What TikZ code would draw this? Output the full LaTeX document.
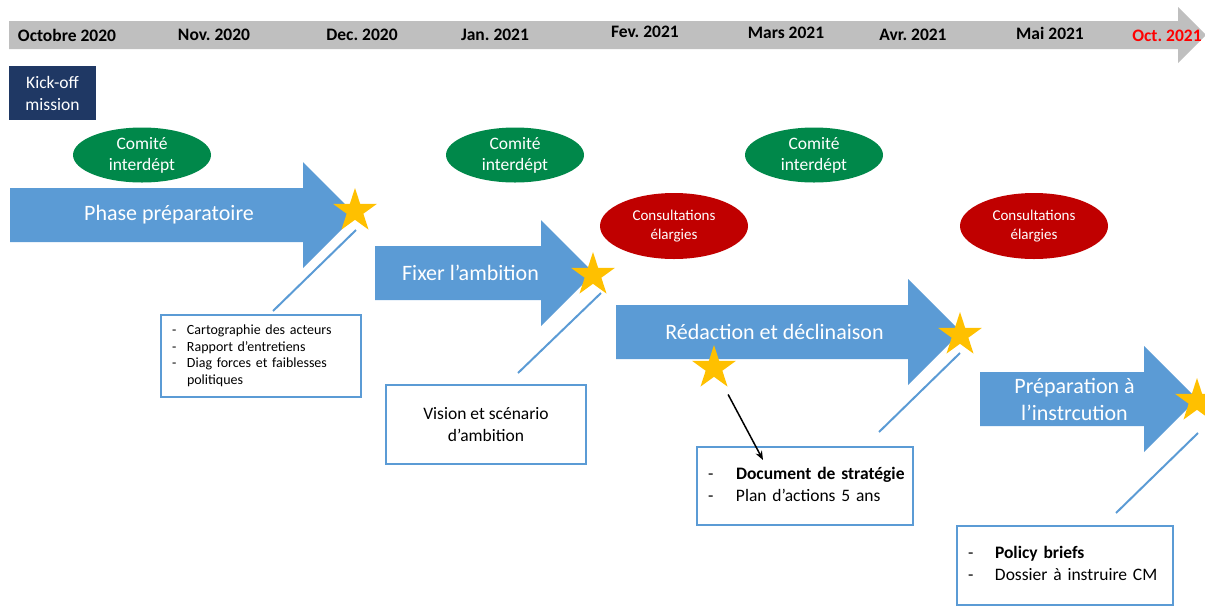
\documentclass[tikz,border=0pt]{standalone}
\usepackage{fontspec}
\setmainfont{Carlito}
\usetikzlibrary{shapes.geometric,arrows.meta}
\frenchspacing

\definecolor{phaseblue}{HTML}{5B9BD5}
\definecolor{comgreen}{RGB}{0,136,74}
\definecolor{consred}{HTML}{C00000}
\definecolor{kicknavy}{HTML}{1F3864}
\definecolor{bargray}{HTML}{BFBFBF}
\definecolor{stargold}{HTML}{FFC000}

\tikzset{
  month/.style={font=\fontsize{17.5}{21}\selectfont\bfseries, inner sep=0pt},
  comite/.style={ellipse, fill=comgreen, text=white, minimum width=138pt, minimum height=55pt, inner sep=0pt, align=center, font=\fontsize{17.5}{21}\selectfont},
  consult/.style={ellipse, fill=consred, text=white, minimum width=148pt, minimum height=66pt, inner sep=0pt, align=center, font=\fontsize{15}{19}\selectfont},
  phasetext/.style={text=white, align=center, inner sep=0pt, font=\fontsize{22}{27}\selectfont},
  jalon/.style={star, star points=5, star point ratio=2.618, fill=stargold, minimum size=46pt, inner sep=0pt},
  livrable/.style={rectangle, draw=phaseblue, line width=1.8pt, fill=white, inner sep=0pt, inner xsep=11pt, align=left, font=\fontsize{17.5}{22}\selectfont},
  lien/.style={draw=phaseblue, line width=2pt},
}

\begin{document}
\begin{tikzpicture}[x=1pt, y=-1pt]
    \useasboundingbox (0,0) rectangle (1205,606);
    % frise
    \fill[bargray] (9,21) -- (1178,21) -- (1178,7) -- (1206,35) -- (1178,63) -- (1178,49) -- (9,49) -- cycle;
    \node[month] (m1) at (67,35) {Octobre 2020};
    \node[month] (m2) at (214,35) {Nov. 2020};
    \node[month] (m3) at (362,35) {Dec. 2020};
    \node[month] (m4) at (495,35) {Jan. 2021};
    \node[month] (m5) at (645,32) {Fev. 2021};
    \node[month] (m6) at (786,33) {Mars 2021};
    \node[month] (m7) at (913,35) {Avr. 2021};
    \node[month] (m8) at (1050,33) {Mai 2021};
    \node[month, text=red] (m9) at (1167,36) {Oct. 2021};

    \node[fill=kicknavy, text=white, minimum width=87pt, minimum height=54pt, inner sep=0pt, align=center, font=\fontsize{17.5}{22}\selectfont] (kick) at (52.5,93) {Kick-off\\mission};

    \node[comite] (c1) at (142,155) {Comité\\interdépt};
    \node[comite] (c2) at (515,155) {Comité\\interdépt};
    \node[comite] (c3) at (814,155) {Comité\\interdépt};
    \node[consult] (e1) at (674,226) {Consultations\\élargies};
    \node[consult] (e2) at (1034,226) {Consultations\\élargies};

    % phases
    \foreach \n/\xa/\yc/\xh/\txt in {1/10/215/303/{Phase préparatoire}, 2/375/273/541/{Fixer l’ambition}, 3/616/332/908/{Rédaction et déclinaison}, 4/980/399/1144/{Préparation à\\l’instrcution}} {
        \fill[phaseblue] (\xa,\yc-27) -- (\xh,\yc-27) -- (\xh,\yc-53) -- (\xh+53,\yc) -- (\xh,\yc+53) -- (\xh,\yc+27) -- (\xa,\yc+27) -- cycle;
        \node[phasetext] (p\n) at ({(\xa+\xh+53)/2-14},\yc) {\txt};
    }

    % liens
    \coordinate (l1a) at (356,230); \coordinate (l1b) at (273,311);
    \coordinate (l2a) at (601,293); \coordinate (l2b) at (518,373);
    \coordinate (l3a) at (960,353); \coordinate (l3b) at (879,432);
    \coordinate (l4a) at (1198,433); \coordinate (l4b) at (1116,513);
    \draw[lien] (l1a) -- (l1b);
    \draw[lien] (l2a) -- (l2b);
    \draw[lien] (l3a) -- (l3b);
    \draw[lien] (l4a) -- (l4b);

    % livrables
    \node[livrable, text width=178pt, minimum height=82pt, font=\fontsize{14}{16.5}\selectfont] (b1) at (261,356) {\begin{tabular}{@{}p{15pt}@{}l@{}}
        - & Cartographie des acteurs\\
        - & Rapport d’entretiens\\
        - & Diag forces et faiblesses\\
          & politiques
    \end{tabular}};
    \node[livrable, align=center, minimum width=200pt, minimum height=79pt, inner xsep=0pt] (b2) at (486,424.5) {Vision et scénario\\d’ambition};
    \node[livrable, text width=194pt, minimum height=78pt] (b3) at (805,486) {\begin{tabular}{@{}p{28pt}@{}l@{}}
        - & \textbf{Document de stratégie}\\
        - & Plan d’actions 5 ans
    \end{tabular}};
    \node[livrable, text width=194pt, minimum height=79pt] (b4) at (1065,565.5) {\begin{tabular}{@{}p{27pt}@{}l@{}}
        - & \textbf{Policy briefs}\\
        - & Dossier à instruire CM
    \end{tabular}};

    % jalons
    \node[jalon] (st1) at (355,211) {};
    \node[jalon] (st2) at (593,275) {};
    \node[jalon] (st3) at (960,335) {};
    \node[jalon] (st4) at (1197,401) {};
    \node[jalon] (st5) at (714,368) {};

    \coordinate (doc) at (763,460);
    \draw[line width=1.5pt, -{Stealth[length=9pt, width=7pt]}, shorten <=30pt] (st5.center) -- (doc);
\end{tikzpicture}
\end{document}
